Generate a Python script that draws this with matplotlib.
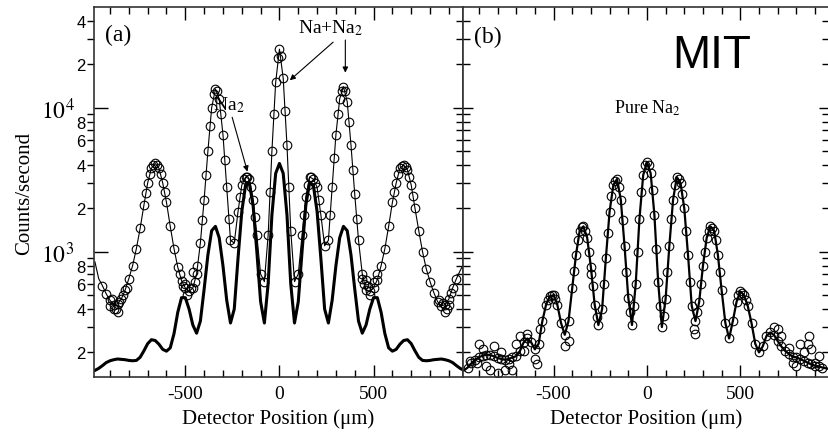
import matplotlib
matplotlib.use("Agg")
import matplotlib.pyplot as plt
from matplotlib.ticker import FixedLocator, FixedFormatter, NullFormatter
import numpy as np

plt.rcParams['font.family'] = ['Liberation Serif', 'DejaVu Serif']
plt.rcParams['mathtext.fontset'] = 'stix'
plt.rcParams['axes.unicode_minus'] = False

# Posiciones del detector (um), muestreo común
x_pos = [-980, -960, -940, -920, -900, -880, -860, -840, -820, -800,
         -780, -760, -740, -720, -700, -680, -660, -640, -620, -600,
         -580, -560, -540, -520, -500, -480, -460, -440, -420, -400,
         -380, -360, -340, -320, -300, -280, -260, -240, -220, -200,
         -180, -160, -140, -120, -100, -80, -60, -40, -20, 0,
         20, 40, 60, 80, 100, 120, 140, 160, 180, 200,
         220, 240, 260, 280, 300, 320, 340, 360, 380, 400,
         420, 440, 460, 480, 500, 520, 540, 560, 580, 600,
         620, 640, 660, 680, 700, 720, 740, 760, 780, 800,
         820, 840, 860, 880, 900, 920, 940, 960, 980]

# (a) Na+Na2: cuentas/segundo
mix_counts = [850, 650, 580, 510, 460, 430, 435, 470, 540, 650,
              800, 1050, 1450, 2100, 3000, 3800, 4100, 3800, 3000, 2200,
              1500, 1050, 780, 630, 560, 530, 560, 700, 1150, 2300,
              5000, 10000, 13500, 11500, 6500, 2800, 1200, 1150, 1900, 2900,
              3300, 3200, 2300, 1300, 700, 620, 1300, 5000, 15000, 25500,
              16000, 5500, 1400, 620, 700, 1300, 2400, 3300, 3200, 2800,
              1800, 1100, 1200, 2800, 6500, 11500, 14000, 11000, 5500, 2500,
              1200, 700, 540, 530, 560, 640, 800, 1050, 1500, 2200,
              3000, 3800, 4000, 3700, 2900, 2000, 1400, 1000, 760, 620,
              520, 450, 420, 430, 470, 560, 650, 740, 830]

# (a) puntos adicionales entre muestras y en los mínimos ruidosos
mix_extra_x = [-410, -390, -370, -350, -330, -310, -290, -270,
               -50, -30, -10, 10, 30, 50,
               270, 290, 310, 330, 350, 370, 390, 410,
               -710, -690, -670, -650, -630, -610,
               610, 630, 650, 670, 690, 710,
               -210, -190, -170, -150, -130,
               130, 150, 170, 190, 210,
               -900, -890, -870, -850, -830, -810, -880, -860,
               -530, -510, -500, -490, -470, -450, -440, -460,
               440, 450, 460, 470, 480, 500, 520,
               850, 870, 880, 890, 900, 910]
mix_extra_y = [1650, 3400, 7500, 12500, 13000, 9000, 4300, 1700,
               2600, 9000, 22000, 23000, 9500, 2800,
               1800, 4500, 9000, 13000, 13000, 8000, 3700, 1700,
               2550, 3450, 4000, 4000, 3450, 2600,
               2600, 3450, 3950, 3900, 3300, 2450,
               2400, 3200, 3300, 2800, 1750,
               1800, 2900, 3300, 3000, 2300,
               420, 470, 400, 450, 500, 560, 400, 380,
               700, 580, 600, 500, 560, 620, 800, 720,
               650, 600, 640, 580, 500, 620, 700,
               460, 440, 380, 400, 430, 520]

# (a) contribución de Na2 (curva gruesa)
na2_counts = [150, 155, 162, 170, 175, 178, 180, 179, 178, 176,
              175, 176, 185, 205, 230, 245, 242, 228, 210, 204,
              215, 270, 380, 480, 480, 400, 310, 272, 330, 550,
              950, 1400, 1500, 1250, 800, 460, 320, 400, 900, 1900,
              2900, 3000, 2100, 1000, 450, 320, 600, 1800, 3500, 4100,
              3500, 1800, 600, 320, 450, 1000, 2100, 3000, 2900, 1900,
              900, 400, 320, 460, 800, 1250, 1500, 1400, 950, 550,
              330, 272, 310, 400, 480, 480, 380, 270, 215, 204,
              210, 228, 242, 245, 230, 205, 185, 176, 175, 176,
              178, 179, 180, 178, 175, 170, 162, 155, 150]

# (b) Na2 puro
pure_counts = [150, 157, 168, 178, 185, 190, 193, 192, 188, 183,
               180, 178, 180, 185, 188, 205, 235, 250, 235, 210,
               230, 330, 430, 490, 500, 430, 320, 265, 330, 560,
               950, 1400, 1500, 1250, 780, 430, 310, 400, 900, 1900,
               2900, 3200, 2300, 1100, 480, 310, 600, 1700, 3400, 4200,
               3500, 1800, 620, 300, 470, 1100, 2300, 3300, 3000, 2000,
               950, 420, 330, 450, 800, 1250, 1500, 1400, 950, 540,
               320, 250, 330, 450, 530, 500, 420, 320, 230, 200,
               220, 260, 275, 265, 240, 220, 205, 195, 187, 185,
               180, 175, 170, 165, 162, 160, 157, 155, 153]

# (b) puntos adicionales y dispersión en las alas
pure_extra_x = [-950, -910, -900, -880, -860, -840, -820, -800, -780, -760,
                -740, -720, -700, -680, -660, -640, -600, -590, -570, -440,
                -420, -300, 250, 255, 680, 700, 720, 760, 780, 800,
                820, 840, 860, 870, 880, 900, 920,
                -10, 10, -30, 30, -50, 50, -70, 70,
                -190, -170, -150, -130, -110, 110, 130, 150, 170, 190,
                -390, -370, -350, -330, -310, -290, 290, 310, 330, 350, 370, 390,
                -530, -510, -490, 490, 510, 530,
                -230, -210, 210, 230, -270, 270, -90, 90]
pure_extra_y = [175, 170, 230, 210, 160, 150, 220, 145, 200, 150,
                165, 150, 230, 260, 205, 270, 180, 165, 290, 220,
                240, 700, 290, 270, 300, 290, 260, 215, 170, 160,
                230, 200, 230, 260, 210, 170, 190,
                4000, 4000, 2600, 2700, 1000, 1050, 420, 420,
                2450, 3100, 2800, 1650, 720, 720, 1700, 2900, 3200, 2500,
                730, 1200, 1480, 1400, 1000, 580, 600, 1000, 1400, 1470, 1200, 720,
                460, 500, 470, 500, 520, 460,
                600, 1350, 1400, 620, 350, 380, 380, 360]

x_ticks = [-500, 0, 500]
x_minor = [-900, -800, -700, -600, -400, -300, -200, -100,
           100, 200, 300, 400, 600, 700, 800, 900]
y_major = [1e3, 1e4]
y_major_labels = ['$10^3$', '$10^4$']
y_minor = [200, 300, 400, 500, 600, 700, 800, 900,
           2000, 3000, 4000, 5000, 6000, 7000, 8000, 9000,
           20000, 30000, 40000]
y_minor_labels = ['2', '', '4', '', '6', '', '8', '',
                  '2', '', '4', '', '6', '', '8', '',
                  '2', '', '4']

fig = plt.figure(figsize=(8.29, 4.35), dpi=100)
ax_a = fig.add_axes([94 / 829, 57 / 435, 369 / 829, 370 / 435])
ax_b = fig.add_axes([463 / 829, 57 / 435, 366 / 829, 370 / 435])

circ = dict(marker='o', ms=6.2, mfc='none', mec='black', mew=0.8, ls='none')

# panel (a)
ax_a.plot(x_pos, mix_counts, color='black', lw=0.8)
ax_a.plot(x_pos[2:-2], mix_counts[2:-2], **circ)
ax_a.plot(mix_extra_x, mix_extra_y, **circ)
ax_a.plot(x_pos, na2_counts, color='black', lw=2.2)

# panel (b)
ax_b.plot(x_pos, pure_counts, color='black', lw=1.6)
ax_b.plot(x_pos[1:-2], pure_counts[1:-2], **circ)
ax_b.plot(pure_extra_x, pure_extra_y, **circ)

for ax in (ax_a, ax_b):
    ax.set_yscale('log')
    ax.set_xlim(-985, 975)
    ax.set_ylim(135, 50000)
    ax.xaxis.set_major_locator(FixedLocator(x_ticks))
    ax.xaxis.set_minor_locator(FixedLocator(x_minor))
    ax.tick_params(axis='x', which='major', direction='in', length=9,
                   width=1, top=True, labelsize=14, pad=6)
    ax.tick_params(axis='x', which='minor', direction='in', length=5,
                   width=1, top=True)
    ax.set_xlabel('Detector Position (μm)', fontsize=15, labelpad=4)
    for s in ax.spines.values():
        s.set_linewidth(1.2)
        s.set_color('#333333')
    ax.yaxis.set_major_locator(FixedLocator(y_major))
    ax.yaxis.set_minor_locator(FixedLocator(y_minor))

ax_a.yaxis.set_major_formatter(FixedFormatter(y_major_labels))
ax_a.yaxis.set_minor_formatter(FixedFormatter(y_minor_labels))
ax_a.tick_params(axis='y', which='major', direction='in', length=10,
                 width=1, labelsize=17, pad=14, right=False)
ax_a.tick_params(axis='y', which='minor', direction='out', length=5,
                 width=1, labelsize=12, pad=1, right=False)
for lab in ax_a.get_yticklabels(minor=True):
    lab.set_fontfamily('Liberation Sans')
ax_a.set_ylabel('Counts/second', fontsize=15, labelpad=5)

ax_b.yaxis.set_major_formatter(NullFormatter())
ax_b.yaxis.set_minor_formatter(NullFormatter())
ax_b.tick_params(axis='y', which='major', direction='inout', length=14,
                 width=1, left=True, right=True, labelleft=False)
ax_b.tick_params(axis='y', which='minor', direction='inout', length=10,
                 width=1, left=True, right=True, labelleft=False)

# textos
ax_a.text(0.03, 0.955, '(a)', transform=ax_a.transAxes, fontsize=17,
          va='top', ha='left')
ax_b.text(0.03, 0.95, '(b)', transform=ax_b.transAxes, fontsize=17,
          va='top', ha='left')
ax_b.text(0.68, 0.87, 'MIT', transform=ax_b.transAxes, fontsize=33,
          family='Liberation Sans', ha='center', va='center')
ax_b.text(0, 1e4, 'Pure Na$_2$', fontsize=13, ha='center', va='center')

arrow = dict(arrowstyle='-|>', color='black', lw=0.8, mutation_scale=8,
             shrinkA=0, shrinkB=0)
ax_a.annotate('Na$_2$', xy=(-170, 3600), xytext=(-270, 10500), fontsize=14,
              ha='center', va='center', arrowprops=arrow)
ax_a.text(270, 36000, 'Na+Na$_2$', fontsize=14, ha='center', va='center')
ax_a.annotate('', xy=(55, 15500), xytext=(285, 28500), arrowprops=arrow)
ax_a.annotate('', xy=(350, 17500), xytext=(350, 29500), arrowprops=arrow)

fig.savefig('out.png', dpi=100, facecolor='white')
